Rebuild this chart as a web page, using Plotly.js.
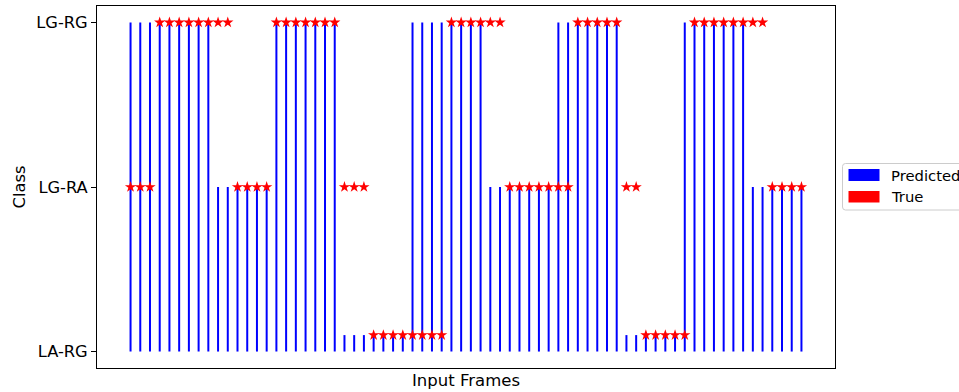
<!DOCTYPE html>
<html>
<head>
<meta charset="utf-8">
<script src="https://cdn.plot.ly/plotly-3.0.1.min.js"></script>
<style>
  html, body { margin: 0; padding: 0; background: #fff; }
  #chart { width: 959px; height: 392px; }
</style>
</head>
<body>
<div id="chart"></div>
<script>
// ---- data (class index: 0 = LA-RG, 1 = LG-RA, 2 = LG-RG) ----
const classLabels = ['LA-RG', 'LG-RA', 'LG-RG'];
const classTicks = [0, 1, 2];
const classLevel = [0.1, 1, 2];   // plotted height of each class

const predicted = [2,2,2,2,2,2,2,2,2, 1,1,1,1,1,1, 2,2,2,2,2,2,2, 0,0,0,0,0,0,0,
                   2,2,2,2,2,2,2,2, 1,1,1,1,1,1,1, 2,2,2,2,2,2,2, 0,0,0,0,0,0,
                   2,2,2,2,2,2,2, 1,1,1,1,1,1];
const trueCls = [1,1,1, 2,2,2,2,2,2,2,2, 1,1,1,1, 2,2,2,2,2,2,2, 1,1,1,
                 0,0,0,0,0,0,0,0, 2,2,2,2,2,2, 1,1,1,1,1,1,1, 2,2,2,2,2, 1,1,
                 0,0,0,0,0, 2,2,2,2,2,2,2,2, 1,1,1,1];
const frames = predicted.map((_, i) => i);

// ---- stems for predicted ----
const stemX = [], stemY = [];
frames.forEach(i => {
  stemX.push(i, i, null);
  stemY.push(0, classLevel[predicted[i]], null);
});

const FONT = 'DejaVu Sans, Liberation Sans, sans-serif';
const FS = 16.3;

const traces = [
  {
    x: stemX, y: stemY, type: 'scatter', mode: 'lines',
    line: { color: '#0000ff', width: 2 }, hoverinfo: 'skip', showlegend: false
  },
  {
    x: frames, y: trueCls.map(c => classLevel[c]), type: 'scatter', mode: 'markers',
    marker: { symbol: 'star', color: '#ff0000', size: 8.5, line: { width: 0 } },
    showlegend: false
  }
];

// ---- layout geometry ----
const M = { l: 97, r: 124, t: 6, b: 24 };
const W = 959 - M.l - M.r, H = 392 - M.t - M.b;
const px = v => (v - M.l) / W;
const py = v => 1 - (v - M.t) / H;

// legend box (rounded)
const bx0 = 842.5, bx1 = 990, by0 = 163.5, by1 = 210, rr = 3;
const legPath = `M${px(bx0 + rr)},${py(by0)} L${px(bx1)},${py(by0)} L${px(bx1)},${py(by1)} ` +
  `L${px(bx0 + rr)},${py(by1)} Q${px(bx0)},${py(by1)} ${px(bx0)},${py(by1 - rr)} ` +
  `L${px(bx0)},${py(by0 + rr)} Q${px(bx0)},${py(by0)} ${px(bx0 + rr)},${py(by0)} Z`;

const legendItems = [
  { name: 'Predicted', color: '#0000ff', y0: 169, y1: 181 },
  { name: 'True', color: '#ff0000', y0: 191, y1: 202.5 }
];

const shapes = [
  { type: 'path', xref: 'paper', yref: 'paper', path: legPath,
    line: { color: '#cccccc', width: 1 }, fillcolor: 'rgba(255,255,255,0.8)' }
];
const annotations = [];
legendItems.forEach(it => {
  shapes.push({ type: 'rect', xref: 'paper', yref: 'paper',
    x0: px(848.5), x1: px(879.5), y0: py(it.y0), y1: py(it.y1),
    fillcolor: it.color, line: { width: 0 } });
  annotations.push({ xref: 'paper', yref: 'paper', x: px(889), y: py((it.y0 + it.y1) / 2),
    xanchor: 'left', yanchor: 'middle', text: it.name, showarrow: false,
    font: { family: FONT, size: 14.8, color: '#000' } });
});

const layout = {
  width: 959, height: 392,
  margin: M,
  paper_bgcolor: '#fff', plot_bgcolor: '#fff',
  font: { family: FONT, size: FS, color: '#000' },
  showlegend: false,
  xaxis: {
    range: [-3.45, 72.45], showticklabels: false, ticks: '', showgrid: false, zeroline: false,
    showline: true, mirror: true, linecolor: '#000', linewidth: 1,
    title: { text: 'Input Frames', font: { family: FONT, size: 16.5 }, standoff: 6 },
    automargin: false
  },
  yaxis: {
    range: [-0.1, 2.1], tickvals: classTicks, ticktext: classLabels,
    ticks: 'outside', ticklen: 5, tickcolor: '#000', tickwidth: 1,
    showgrid: false, zeroline: false,
    showline: true, mirror: true, linecolor: '#000', linewidth: 1,
    tickfont: { family: FONT, size: FS },
    title: { text: 'Class', font: { family: FONT, size: FS }, standoff: 6 },
    automargin: false
  },
  shapes: shapes,
  annotations: annotations
};

Plotly.newPlot('chart', traces, layout, { displayModeBar: false, staticPlot: true });
</script>
</body>
</html>
